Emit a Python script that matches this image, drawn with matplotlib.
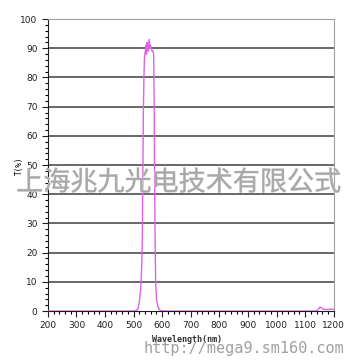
import matplotlib
matplotlib.use('Agg')
import matplotlib.pyplot as plt
import matplotlib.patheffects as pe
from matplotlib.ticker import MultipleLocator

# transmission curve
wavelength = [200, 300, 400, 500, 510, 515, 520, 525, 528, 530, 532, 534, 536,
              538, 541, 543, 545, 547, 549, 551, 553, 555, 557, 559, 562, 565,
              568, 570, 572, 573, 575, 577, 580, 585, 590, 595, 620, 800, 1000,
              1140, 1148, 1152, 1158, 1165, 1175, 1185, 1200]
transmittance = [0, 0, 0, 0, 0.2, 0.8, 3, 8, 15, 22, 45, 68, 80,
                 87, 89, 91, 88, 92, 90, 89, 91, 93, 90, 91, 90, 89,
                 89, 88, 70, 50, 25, 10, 4, 1.5, 0.5, 0.1, 0, 0, 0,
                 0, 0.8, 1.4, 1.0, 0.6, 0.5, 0.6, 0.6]

x_ticks = [200, 300, 400, 500, 600, 700, 800, 900, 1000, 1100, 1200]
y_ticks = [0, 10, 20, 30, 40, 50, 60, 70, 80, 90, 100]

fig = plt.figure(figsize=(3.6, 3.6), dpi=100)
ax = fig.add_axes([0.133, 0.136, 0.794, 0.811])

for v in y_ticks[1:-1]:
    ax.axhline(v, color='#404040', lw=1.1, zorder=1)

ax.plot(wavelength, transmittance, color='#e060e8', lw=1.0, zorder=3)

ax.set_xlim(200, 1200)
ax.set_ylim(0, 100)
ax.set_xticks(x_ticks)
ax.set_yticks(y_ticks)
ax.xaxis.set_minor_locator(MultipleLocator(20))
ax.yaxis.set_minor_locator(MultipleLocator(2))
ax.tick_params(axis='both', which='major', labelsize=6.5, length=4, width=0.8,
               direction='out', colors='#202020')
ax.tick_params(axis='both', which='minor', length=2.5, width=0.8, direction='out')

ax.spines['top'].set_color('#a0a0a0')
ax.spines['right'].set_color('#a0a0a0')
ax.spines['left'].set_color('#202020')
ax.spines['bottom'].set_color('#202020')

fig.text(0.055, 0.54, 'T(%)', rotation=90, fontsize=5.5, ha='center', va='center',
         family='DejaVu Sans Mono')
fig.text(0.52, 0.058, 'Wavelength(nm)', fontsize=6, ha='center', va='center',
         family='DejaVu Sans Mono', fontweight='bold', color='#303030')

# watermarks
fig.text(0.497, 0.492, '上海兆九光电技术有限公式', fontsize=19.5, ha='center', va='center',
         family=['Noto Sans CJK SC', 'DejaVu Sans'], fontweight='light', color='#a8a8a8',
         path_effects=[pe.withStroke(linewidth=0.6, foreground='#d8d8d8')], zorder=10)
fig.text(0.678, 0.033, 'http://mega9.sm160.com', fontsize=11, ha='center', va='center',
         family='DejaVu Sans Mono', color='#a0a0a0', zorder=10)

fig.savefig('out.png', dpi=100)
